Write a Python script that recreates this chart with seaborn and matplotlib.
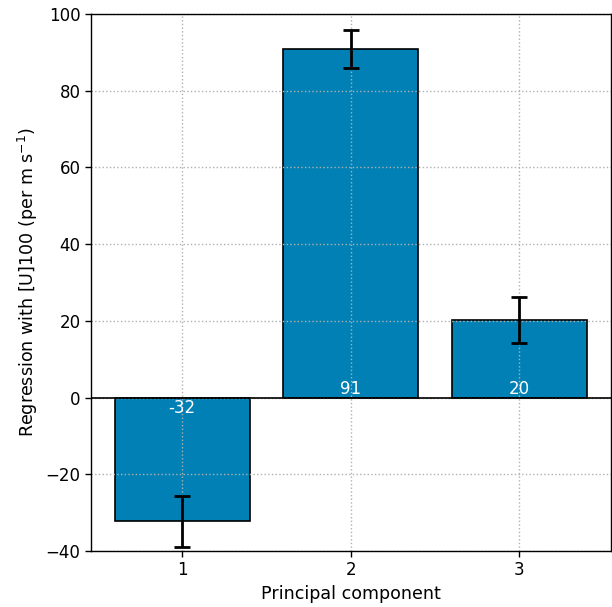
import matplotlib
matplotlib.use("Agg")
import matplotlib.pyplot as plt
import seaborn as sns
import numpy as np
import pandas as pd

components = [1, 2, 3]
values = [-32.3, 90.8, 20.2]
errors = [6.6, 5.0, 5.9]
labels = ["-32", "91", "20"]

sns.set_style("ticks")
plt.rcParams['font.family'] = ['DejaVu Sans']
plt.rcParams['text.color'] = 'black'
plt.rcParams['axes.labelcolor'] = 'black'
plt.rcParams['xtick.color'] = 'black'
plt.rcParams['ytick.color'] = 'black'

fig = plt.figure(figsize=(6.12, 6.07), dpi=100)
ax = fig.add_axes([0.1487, 0.0923, 0.849, 0.8846])

df = pd.DataFrame({"pc": components, "val": values})
sns.barplot(data=df, x="pc", y="val", native_scale=True, color="#0080b4",
            saturation=1, edgecolor="black", linewidth=1.2, width=0.8,
            errorbar=None, ax=ax)
ax.errorbar(components, values, yerr=errors, fmt="none", ecolor="black",
            elinewidth=2, capsize=6, capthick=2, zorder=5)
ax.axhline(0, color="black", linewidth=1.2, zorder=4)

for x, v, lab in zip(components, values, labels):
    ax.text(x, 0 if v > 0 else -0.5, lab, ha="center",
            va="bottom" if v > 0 else "top", color="white", fontsize=12, zorder=6)

ax.set_xlim(0.46, 3.54)
ax.set_ylim(-40, 100)
ax.set_xticks(components)
ax.set_yticks(np.arange(-40, 101, 20))
ax.set_yticklabels(["\u221240", "\u221220", "0", "20", "40", "60", "80", "100"])
ax.tick_params(labelsize=12, direction="out", length=4, width=1, color="black",
               labelcolor="black")
ax.set_axisbelow(False)
ax.grid(True, linestyle=":", color="#b0b0b0", linewidth=1)
for s in ax.spines.values():
    s.set_visible(True)
    s.set_color("black")
    s.set_linewidth(1)
    s.set_zorder(10)
ax.set_xlabel("Principal component", fontsize=12.6, color="black")
ax.set_ylabel("Regression with [U]100 (per m s$^{-1}$)", fontsize=12.6, color="black")

fig.savefig("out.png", dpi=100)
